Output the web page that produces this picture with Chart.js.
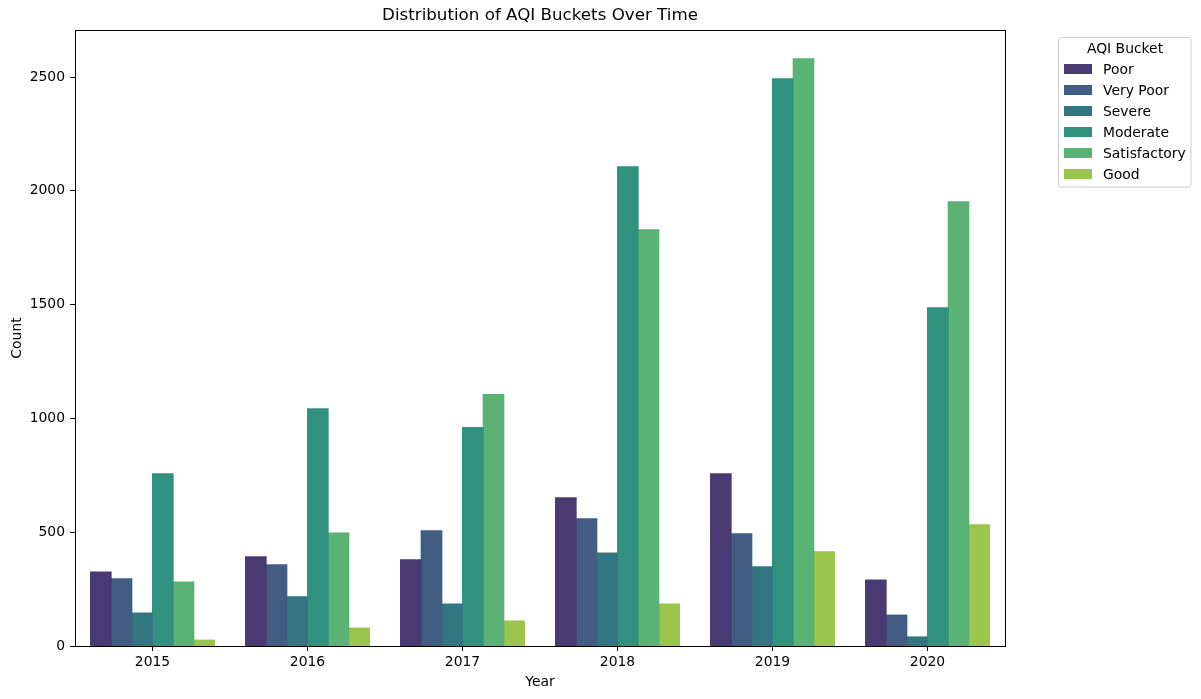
<!DOCTYPE html>
<html>
<head>
<meta charset="utf-8">
<script src="https://cdn.jsdelivr.net/npm/chart.js@4.4.1/dist/chart.umd.min.js"></script>
<style>
  html, body { margin: 0; padding: 0; background: #ffffff; }
  #wrap { width: 1201px; height: 699px; }
</style>
</head>
<body>
<div id="wrap"><canvas id="c" width="1201" height="699"></canvas></div>
<script>
const years = ['2015', '2016', '2017', '2018', '2019', '2020'];
const bucketNames = ['Poor', 'Very Poor', 'Severe', 'Moderate', 'Satisfactory', 'Good'];
const poor = [325, 392, 379, 651, 757, 290];
const veryPoor = [295, 357, 506, 559, 493, 136];
const severe = [145, 216, 185, 409, 348, 40];
const moderate = [757, 1043, 960, 2106, 2493, 1486];
const satisfactory = [281, 497, 1105, 1829, 2581, 1952];
const good = [26, 79, 110, 185, 414, 533];
const yTicks = [0, 500, 1000, 1500, 2000, 2500];

const colors = ['#4A3A73', '#415E82', '#337580', '#30927E', '#5AB274', '#9BC54B'];
const seriesValues = [poor, veryPoor, severe, moderate, satisfactory, good];

const FONT = "'DejaVu Sans', sans-serif";

const framePlugin = {
  id: 'framePlugin',
  afterDraw(chart) {
    const ctx = chart.ctx;
    const a = chart.chartArea;
    ctx.save();
    ctx.strokeStyle = '#000000';
    ctx.lineWidth = 1;
    ctx.strokeRect(Math.round(a.left) + 0.5, Math.round(a.top) + 0.5,
                   Math.round(a.right - a.left), Math.round(a.bottom - a.top));
    ctx.fillStyle = '#000000';
    ctx.font = '16.7px ' + FONT;
    ctx.textAlign = 'center';
    ctx.textBaseline = 'middle';
    ctx.fillText('Distribution of AQI Buckets Over Time', (a.left + a.right) / 2, 16);
    const lx = 1058.5, ly = 37.5, lw = 132.5, lh = 149.5, r = 3;
    ctx.beginPath();
    ctx.moveTo(lx + r, ly);
    ctx.lineTo(lx + lw - r, ly);
    ctx.quadraticCurveTo(lx + lw, ly, lx + lw, ly + r);
    ctx.lineTo(lx + lw, ly + lh - r);
    ctx.quadraticCurveTo(lx + lw, ly + lh, lx + lw - r, ly + lh);
    ctx.lineTo(lx + r, ly + lh);
    ctx.quadraticCurveTo(lx, ly + lh, lx, ly + lh - r);
    ctx.lineTo(lx, ly + r);
    ctx.quadraticCurveTo(lx, ly, lx + r, ly);
    ctx.closePath();
    ctx.fillStyle = 'rgba(255,255,255,0.8)';
    ctx.fill();
    ctx.strokeStyle = '#cccccc';
    ctx.stroke();
    ctx.fillStyle = '#000000';
    ctx.font = '13.9px ' + FONT;
    ctx.textAlign = 'center';
    ctx.fillText('AQI Bucket', 1125, 49);
    ctx.textAlign = 'left';
    chart.data.datasets.forEach((ds, i) => {
      const cy = 69 + i * 21;
      ctx.fillStyle = ds.backgroundColor;
      ctx.fillRect(1064, cy - 5, 28, 10);
      ctx.fillStyle = '#000000';
      ctx.fillText(ds.label, 1103, cy + 1);
    });
    ctx.restore();
  }
};

new Chart(document.getElementById('c'), {
  type: 'bar',
  data: {
    labels: years,
    datasets: bucketNames.map((name, i) => ({
      label: name,
      data: seriesValues[i],
      backgroundColor: colors[i],
      borderWidth: 0,
      inflateAmount: 0.5,
      categoryPercentage: 0.8,
      barPercentage: 1.0
    }))
  },
  options: {
    responsive: false,
    animation: false,
    devicePixelRatio: 1,
    layout: { padding: { left: 0, right: 196, top: 30, bottom: 0 } },
    plugins: {
      legend: { display: false },
      title: { display: false },
      tooltip: { enabled: false }
    },
    scales: {
      x: {
        offset: true,
        grid: {
          display: true,
          offset: false,
          drawOnChartArea: false,
          drawTicks: true,
          tickLength: 5,
          color: '#000000'
        },
        border: { display: true, color: '#000000' },
        ticks: {
          color: '#000000',
          font: { family: FONT, size: 13.9 },
          padding: 3,
          maxRotation: 0
        },
        title: {
          display: true,
          text: 'Year',
          color: '#000000',
          font: { family: FONT, size: 13.9 },
          padding: { top: 4, bottom: 8.5 }
        },
        afterFit(scale) { scale.height = 53; }
      },
      y: {
        min: 0,
        max: 2707,
        grid: {
          display: true,
          drawOnChartArea: false,
          drawTicks: true,
          tickLength: 5,
          color: '#000000'
        },
        border: { display: true, color: '#000000' },
        afterBuildTicks(scale) { scale.ticks = yTicks.map(v => ({ value: v })); },
        ticks: {
          color: '#000000',
          font: { family: FONT, size: 13.9 },
          padding: 5,
          includeBounds: false,
          callback: (v) => String(v)
        },
        title: {
          display: true,
          text: 'Count',
          color: '#000000',
          font: { family: FONT, size: 13.9 },
          padding: { top: 9, bottom: 9 }
        },
        afterFit(scale) { scale.width = 75; }
      }
    }
  },
  plugins: [framePlugin]
});
</script>
</body>
</html>
